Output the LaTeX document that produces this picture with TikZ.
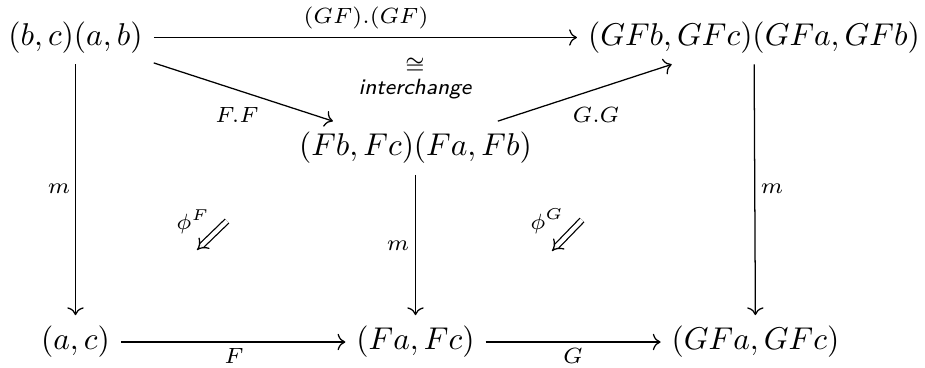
\documentclass[tikz,border=0pt]{standalone}
\usetikzlibrary{arrows.meta}
\begin{document}
\begin{tikzpicture}[x=0.3175pt,y=-0.3175pt,
  obj/.style={inner sep=3.33pt},
  arr/.style={->, line width=0.4pt},
  lab/.style={font=\fontsize{7.5}{9}\selectfont, inner sep=0.5pt},
  twocell/.style={double, double distance=1.3pt, -{Implies}, line width=0.4pt}]
\useasboundingbox (0,0) rectangle (925,367);
% objects
\node[obj] (A) at (75.5,37.5) {$(b,c)(a,b)$};
\node[obj] (B) at (754,37.5) {$(GFb,GFc)(GFa,GFb)$};
\node[obj] (C) at (415.5,148) {$(Fb,Fc)(Fa,Fb)$};
\node[obj] (D) at (75.5,342) {$(a,c)$};
\node[obj] (E) at (415.5,342) {$(Fa,Fc)$};
\node[obj] (F) at (755.5,342) {$(GFa,GFc)$};
% connectors
\draw[arr] (A) -- (B);
\draw[arr] (A) -- (C);
\draw[arr] (C) -- (B);
\draw[arr] (A) -- (D);
\draw[arr] (C) -- (E);
\draw[arr] (B) -- (F);
\draw[arr] (D) -- (E);
\draw[arr] (E) -- (F);
% labels
\node[lab] (lGF) at (366,18) {$(GF).(GF)$};
\node[lab] (lFF) at (237,115) {$F.F$};
\node[lab] (lGG) at (596,115) {$G.G$};
\node[lab] (lm1) at (59,189) {$m$};
\node[lab] (lm2) at (398,246) {$m$};
\node[lab] (lm3) at (772,189) {$m$};
\node[lab] (lF) at (234,356) {$F$};
\node[lab] (lG) at (573,356) {$G$};
\node[inner sep=0pt, align=center, font=\fontsize{7}{7.2}\selectfont\sffamily\itshape] (inter) at (415,79) {$\cong$\\interchange};
% 2-cells
\coordinate (pF1) at (227,221);
\coordinate (pF2) at (197,250);
\coordinate (pG1) at (582,220);
\coordinate (pG2) at (552,251);
\draw[twocell] (pF1) -- (pF2);
\draw[twocell] (pG1) -- (pG2);
\node[lab] (phiF) at (193,222) {$\phi^F$};
\node[lab] (phiG) at (547,221) {$\phi^G$};
\end{tikzpicture}
\end{document}
